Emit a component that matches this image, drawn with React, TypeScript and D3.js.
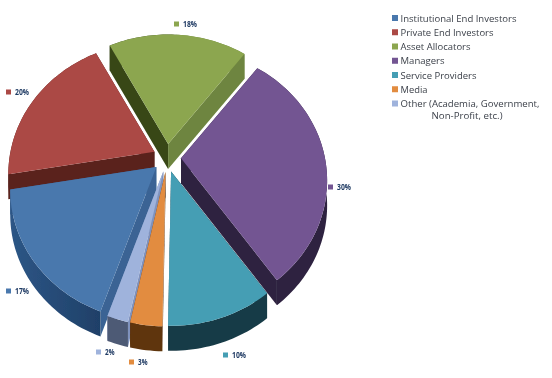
import React from "react";
import * as d3 from "d3";

const categories = ["Institutional End Investors", "Private End Investors", "Asset Allocators", "Managers", "Service Providers", "Media", "Other (Academia, Government,"];
const legendWidths = [116, 93, 70, 44, 76, 27, 139];
const legendExtra = "Non-Profit, etc.)";
const shares = [17, 20, 18, 30, 10, 3, 2];
const topColors = ["#4a78ad", "#ab4844", "#8ca64f", "#735592", "#459eb4", "#e28c41", "#9fb3dc"];
const wallColors = ["url(#blueWall)", "#5a221e", "url(#greenWall)", "#2f2340", "#183b46", "#5e3510", "#4d5a75"];
const startSideColors = ["#3a6494", "#5a221e", "#374719", "#2f2340", "#183b46", "#5e3510", "#7f92bd"];
const endSideColors = ["#3a6494", "#5a221e", "#6e853f", "#2f2340", "#183b46", "#5e3510", "#7f92bd"];
const drawOrder = [2, 1, 3, 0, 4, 6, 5];
const labelAnchors: [number, number][] = [[9, 291], [9, 92], [177, 24], [331, 187], [226, 355], [132, 362], [99, 352]];

const cx = 167, cy = 158, R = 144, K = 0.89, P = 0.17, DEPTH = 25, EXPLODE = 14, START = 199;

const proj = (t: number, r = 1): [number, number] => {
  const u = Math.sin(t) * r, v = Math.cos(t) * r;
  const w = 1 + P * v;
  return [(R * u) / w, (-R * K * v) / w];
};

const line = d3.line<[number, number]>().x(d => d[0]).y(d => d[1]);
const arcs = d3.pie<number>().sort(null).startAngle((START * Math.PI) / 180).endAngle(((START + 360) * Math.PI) / 180)(shares);

export default function App() {
  const slices = drawOrder.map(i => {
    const a = arcs[i];
    const mid = (a.startAngle + a.endAngle) / 2;
    const ox = cx + EXPLODE * Math.sin(mid), oy = cy - EXPLODE * Math.cos(mid);
    const n = Math.max(4, Math.ceil((a.endAngle - a.startAngle) * 40));
    const scale = d3.scaleLinear().domain([0, n]).range([a.startAngle, a.endAngle]);
    const rim: [number, number][] = d3.range(n + 1).map(k => {
      const p = proj(scale(k));
      return [ox + p[0], oy + p[1]];
    });
    const low = (p: [number, number]): [number, number] => [p[0], p[1] + DEPTH];
    const apex: [number, number] = [ox, oy];
    return (
      <g key={i}>
        <path d={line([apex, rim[0], low(rim[0]), low(apex)])! + "Z"} fill={startSideColors[i]} />
        <path d={line([apex, rim[n], low(rim[n]), low(apex)])! + "Z"} fill={endSideColors[i]} />
        <path d={line([...rim, ...rim.map(low).reverse()])! + "Z"} fill={wallColors[i]} />
        <path d={line([apex, ...rim])! + "Z"} fill={topColors[i]} />
      </g>
    );
  });
  return (
    <svg width={552} height={378} style={{ position: "absolute", left: 0, top: 0, background: "#fff" }}>
      <defs>
        <filter id="soft" x="0" y="0" width="100%" height="100%">
          <feGaussianBlur stdDeviation="0.45" />
        </filter>
        <linearGradient id="greenWall" x1="0" x2="1" y1="0" y2="0">
          <stop offset="0.5" stopColor="#374719" />
          <stop offset="0.5" stopColor="#6e853f" />
        </linearGradient>
        <linearGradient id="blueWall" x1="0" x2="1" y1="0" y2="0">
          <stop offset="0" stopColor="#2d5686" />
          <stop offset="1" stopColor="#1f4068" />
        </linearGradient>
      </defs>
      <g filter="url(#soft)">
        {slices}
        {shares.map((s, i) => (
          <g key={i}>
            <rect x={labelAnchors[i][0] - 3} y={labelAnchors[i][1] - 2.5} width={5} height={5} fill={topColors[i]} />
            <text x={labelAnchors[i][0] + 6} y={labelAnchors[i][1] + 3} fontFamily="'Open Sans'" fontWeight={700} fontSize={8} fill="#1f3a63" textLength={s < 10 ? 9.5 : 14} lengthAdjust="spacingAndGlyphs">{s}%</text>
          </g>
        ))}
        {categories.map((c, i) => {
          const y = 18 + i * 14.25;
          return (
            <g key={c}>
              <rect x={392} y={y - 3} width={6} height={6} fill={topColors[i]} />
              <text x={400.5} y={y + 3.5} fontFamily="'Open Sans'" fontSize={9.6} fill="#3a3f48" textLength={legendWidths[i]} lengthAdjust="spacingAndGlyphs">{c}</text>
            </g>
          );
        })}
        <text x={431.5} y={118.5} fontFamily="'Open Sans'" fontSize={9.6} fill="#3a3f48" textLength={71} lengthAdjust="spacingAndGlyphs">{legendExtra}</text>
      </g>
    </svg>
  );
}
